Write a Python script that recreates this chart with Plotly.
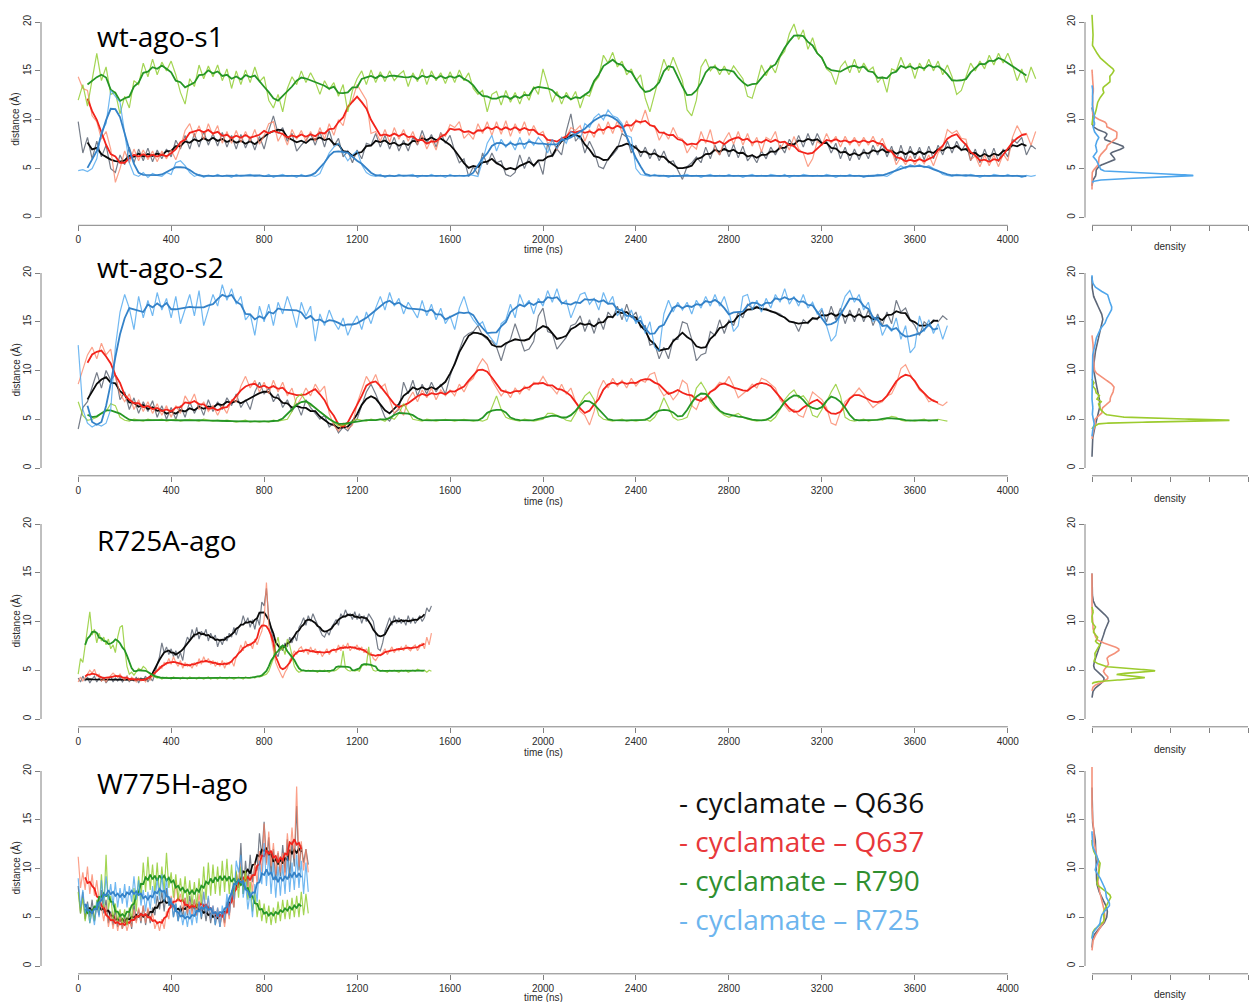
import numpy as np
import plotly.graph_objects as go

# ---------------- data ----------------
ROW_TITLES = ["wt-ago-s1", "wt-ago-s2", "R725A-ago", "W775H-ago"]
PAIRS = ["Q636", "Q637", "R790", "R725"]
LEGEND_LABELS = ["- cyclamate \u2013 Q636", "- cyclamate \u2013 Q637",
                 "- cyclamate \u2013 R790", "- cyclamate \u2013 R725"]
TIME_TICKS = [0, 400, 800, 1200, 1600, 2000, 2400, 2800, 3200, 3600, 4000]
DIST_TICKS = [0, 5, 10, 15, 20]
DENS_TICKS = [0, 0.5, 1.0, 1.5, 2.0]
SAMPLE_STEP = [20, 20, 10, 10]      # ns between stored samples, per row
SMOOTH_WINDOW = [5, 5, 7, 7]        # running-mean window (samples), per row

# ---- row 1 : wt-ago-s1 (0..4120 ns, every 20 ns)
s1_q636 = [
 9.8, 6.6, 8.2, 6.0, 7.8, 6.2, 7.4, 5.0, 4.6, 6.4,
 5.4, 7.2, 5.6, 7.0, 5.8, 7.1, 5.7, 6.9, 6.0, 7.0,
 6.2, 7.9, 7.0, 8.4, 7.0, 8.6, 7.2, 8.8, 7.4, 8.6,
 7.3, 8.7, 7.2, 8.4, 7.0, 8.5, 7.1, 8.2, 6.9, 8.3,
 7.0, 8.9, 10.4, 8.6, 9.2, 7.8, 8.6, 6.8, 7.4, 7.9,
 8.6, 7.4, 8.8, 7.2, 8.9, 7.3, 8.1, 6.2, 6.8, 5.6,
 6.9, 6.0, 7.6, 7.4, 8.6, 7.2, 8.4, 7.0, 8.2, 6.8,
 7.9, 6.8, 8.2, 7.4, 8.9, 7.6, 8.5, 7.2, 8.7, 7.6,
 8.4, 6.8, 5.6, 6.0, 4.2, 5.2, 4.4, 6.6, 5.4, 6.6,
 5.6, 5.8, 4.4, 4.2, 4.6, 6.4, 5.0, 6.2, 5.2, 5.8,
 4.4, 7.6, 6.2, 7.0, 6.4, 8.8, 10.6, 7.8, 8.4, 6.6,
 7.8, 6.8, 5.2, 5.0, 6.0, 6.4, 7.0, 8.6, 8.2, 6.6,
 7.4, 6.2, 7.2, 6.0, 7.0, 5.8, 6.8, 5.6, 5.8, 4.8,
 3.9, 5.2, 5.6, 6.2, 5.6, 7.2, 6.0, 7.4, 6.4, 7.6,
 6.2, 7.5, 6.1, 7.3, 5.8, 6.4, 5.6, 6.8, 6.0, 7.2,
 6.4, 7.4, 6.6, 8.0, 7.2, 8.4, 7.2, 8.6, 7.4, 8.6,
 7.6, 7.8, 6.6, 7.6, 6.0, 7.2, 5.8, 7.0, 5.9, 7.0,
 6.0, 7.4, 6.4, 7.6, 6.2, 7.3, 5.8, 7.4, 5.9, 7.3,
 6.0, 7.2, 5.9, 7.3, 6.0, 7.4, 6.4, 7.8, 6.6, 7.8,
 6.8, 7.6, 5.8, 7.0, 5.6, 7.0, 5.8, 7.1, 5.7, 7.0,
 6.2, 8.0, 7.6, 8.2, 6.4, 7.4, 7.0]
s1_q637 = [
 14.4, 13.2, 13.0, 10.4, 9.8, 8.0, 8.8, 7.0, 3.6, 5.0,
 6.8, 5.6, 7.0, 5.8, 6.9, 5.9, 6.8, 5.7, 6.8, 6.0,
 6.9, 5.9, 7.2, 8.9, 9.6, 8.2, 9.4, 8.0, 9.6, 8.4,
 9.4, 7.6, 8.8, 7.6, 8.9, 7.7, 8.8, 7.8, 9.0, 7.5,
 8.4, 9.6, 9.8, 7.8, 8.7, 7.4, 9.0, 8.0, 8.9, 7.8,
 8.8, 7.8, 9.2, 8.0, 9.6, 8.4, 10.0, 9.4, 11.4, 12.0,
 13.6, 12.8, 12.0, 8.6, 8.8, 7.8, 9.0, 7.7, 9.2, 8.0,
 9.0, 7.8, 8.8, 7.5, 8.4, 7.0, 8.0, 6.9, 8.6, 8.3,
 9.5, 9.2, 9.8, 8.1, 8.6, 8.0, 9.6, 8.6, 9.8, 8.4,
 9.8, 8.5, 9.9, 8.3, 9.6, 8.6, 9.8, 8.4, 9.4, 8.5,
 8.8, 7.6, 7.9, 6.9, 8.2, 8.2, 9.2, 8.9, 9.4, 7.8,
 9.0, 8.2, 9.6, 8.5, 9.8, 8.6, 9.9, 8.7, 9.9, 8.8,
 10.0, 9.6, 11.0, 9.4, 9.4, 7.9, 8.8, 8.0, 9.2, 8.2,
 8.0, 6.6, 7.4, 7.0, 8.8, 7.6, 9.0, 7.0, 6.4, 7.9,
 8.7, 7.5, 8.8, 7.4, 8.6, 7.3, 8.2, 6.7, 8.2, 7.9,
 8.8, 7.0, 7.8, 6.9, 8.3, 7.0, 6.6, 5.2, 6.0, 7.8,
 7.4, 8.6, 7.6, 8.3, 7.2, 8.3, 7.4, 8.2, 7.3, 8.2,
 7.4, 8.3, 7.3, 8.1, 6.9, 6.9, 5.4, 6.2, 5.4, 6.3,
 5.4, 6.2, 5.5, 6.4, 5.3, 6.6, 7.2, 9.0, 8.6, 8.9,
 8.1, 8.0, 5.9, 6.3, 5.2, 6.4, 5.3, 6.4, 5.2, 6.5,
 5.8, 8.2, 9.4, 8.5, 8.6, 7.4, 8.8]
s1_r790 = [
 12.0, 13.6, 11.4, 14.2, 16.8, 14.0, 15.4, 12.6, 12.8, 10.6,
 12.4, 11.2, 14.0, 13.6, 15.8, 14.4, 16.2, 14.6, 15.9, 15.0,
 16.0, 14.6, 12.8, 11.6, 14.2, 13.4, 15.6, 14.2, 15.5, 14.4,
 15.6, 14.0, 15.2, 13.2, 15.0, 13.6, 15.1, 13.8, 15.4, 13.9,
 14.4, 12.0, 11.2, 12.6, 10.8, 13.2, 14.4, 13.6, 15.0, 13.8,
 14.8, 13.9, 12.6, 14.0, 13.1, 13.8, 12.4, 13.6, 10.8, 13.0,
 14.2, 15.0, 13.6, 15.1, 13.8, 14.9, 13.9, 15.0, 14.0, 14.6,
 15.0, 13.4, 14.8, 13.9, 15.2, 13.6, 15.0, 14.0, 14.8, 13.7,
 14.9, 13.8, 15.1, 14.0, 14.8, 13.2, 12.6, 13.0, 10.8, 12.6,
 12.9, 11.5, 13.0, 11.8, 12.8, 11.6, 12.9, 12.0, 13.4, 12.6,
 15.2, 13.6, 11.8, 12.9, 11.6, 12.8, 12.0, 12.9, 11.2, 12.6,
 12.4, 13.8, 14.4, 16.6, 15.8, 16.9, 15.4, 16.0, 14.6, 15.2,
 14.0, 14.6, 12.2, 10.8, 12.6, 14.6, 16.2, 15.0, 16.4, 15.2,
 14.0, 11.0, 10.4, 12.0, 15.4, 16.2, 15.0, 15.6, 14.6, 15.5,
 14.6, 15.5, 14.8, 14.2, 12.4, 12.2, 13.8, 15.6, 14.5, 15.6,
 14.8, 16.4, 17.0, 18.8, 19.8, 18.2, 19.2, 17.2, 18.4, 16.8,
 16.4, 15.2, 14.8, 13.6, 15.4, 16.0, 14.8, 16.2, 14.8, 15.8,
 15.0, 15.4, 13.8, 14.4, 12.8, 15.2, 15.0, 16.4, 15.2, 15.8,
 14.2, 15.8, 15.0, 16.2, 15.0, 16.0, 14.6, 15.6, 14.4, 12.6,
 13.0, 14.4, 15.8, 15.0, 16.0, 15.2, 16.6, 15.6, 16.8, 15.8,
 16.8, 15.6, 14.0, 15.2, 13.8, 15.4, 14.2]
s1_r725 = [
 4.8, 4.9, 4.7, 5.0, 6.0, 8.8, 9.6, 13.0, 12.4, 11.8,
 8.6, 5.6, 4.4, 4.2, 4.6, 4.1, 4.5, 4.3, 4.2, 4.6,
 4.4, 5.6, 5.8, 5.3, 4.6, 4.2, 4.4, 4.1, 4.3, 4.2,
 4.4, 4.2, 4.3, 4.1, 4.4, 4.2, 4.3, 4.4, 4.2, 4.3,
 4.2, 4.4, 4.1, 4.3, 4.4, 4.2, 4.3, 4.1, 4.4, 4.2,
 4.3, 4.2, 4.5, 5.6, 6.6, 7.2, 7.6, 6.6, 5.8, 6.4,
 6.8, 5.4, 4.6, 4.3, 4.2, 4.4, 4.1, 4.3, 4.2, 4.4,
 4.2, 4.3, 4.4, 4.1, 4.3, 4.2, 4.4, 4.2, 4.3, 4.1,
 4.4, 4.2, 4.3, 4.2, 4.4, 4.3, 4.2, 5.8, 7.6, 8.4,
 6.8, 8.0, 7.2, 7.8, 6.9, 8.2, 7.0, 8.0, 7.4, 8.2,
 7.6, 6.6, 8.0, 7.0, 8.2, 7.6, 8.8, 8.4, 8.0, 9.6,
 9.2, 10.2, 10.6, 10.0, 11.0, 10.4, 10.2, 9.6, 8.4, 8.2,
 5.0, 4.4, 4.3, 4.2, 4.4, 4.2, 4.3, 4.1, 4.3, 4.2,
 4.3, 4.4, 4.2, 4.3, 4.1, 4.3, 4.4, 4.2, 4.3, 4.2,
 4.4, 4.2, 4.3, 4.1, 4.3, 4.4, 4.2, 4.3, 4.2, 4.4,
 4.3, 4.2, 4.4, 4.1, 4.3, 4.2, 4.4, 4.3, 4.2, 4.3,
 4.2, 4.4, 4.3, 4.1, 4.3, 4.2, 4.4, 4.2, 4.3, 4.1,
 4.3, 4.2, 4.4, 4.3, 4.2, 4.5, 4.9, 5.3, 5.0, 5.4,
 5.2, 5.4, 5.1, 5.3, 5.0, 4.8, 4.4, 4.3, 4.2, 4.4,
 4.3, 4.2, 4.4, 4.3, 4.1, 4.3, 4.2, 4.4, 4.3, 4.2,
 4.4, 4.2, 4.3, 4.1, 4.3, 4.2, 4.3]

# ---- row 2 : wt-ago-s2 (0..3740 ns, every 20 ns)
s2_q636 = [
 4.0, 6.2, 6.8, 8.4, 9.8, 8.2, 10.0, 9.0, 9.6, 7.0,
 7.8, 6.0, 7.2, 5.6, 6.8, 5.8, 6.9, 5.2, 6.4, 5.0,
 6.2, 5.0, 6.4, 5.2, 6.8, 5.6, 6.6, 5.4, 7.0, 5.8,
 6.8, 6.0, 7.2, 6.4, 7.6, 6.2, 7.0, 6.0, 7.8, 8.8,
 7.6, 8.2, 6.8, 7.6, 6.2, 7.0, 5.8, 6.6, 5.4, 7.0,
 6.2, 5.6, 5.0, 5.4, 4.2, 4.6, 3.6, 4.2, 3.8, 4.6,
 5.0, 6.4, 7.8, 8.6, 7.6, 6.4, 5.2, 4.8, 5.6, 6.0,
 8.8, 7.6, 9.0, 7.4, 8.6, 7.6, 8.8, 7.8, 8.6, 7.6,
 9.4, 10.8, 12.0, 13.4, 13.8, 14.0, 14.6, 13.6, 13.2, 13.0,
 12.4, 11.0, 12.6, 13.2, 14.8, 13.4, 12.0, 12.2, 13.0, 15.6,
 16.4, 14.0, 13.8, 12.2, 12.8, 13.4, 14.6, 14.8, 15.6, 14.0,
 15.2, 13.8, 15.4, 14.2, 16.0, 15.4, 16.6, 15.2, 16.8, 15.4,
 16.0, 14.4, 14.6, 12.6, 12.8, 11.2, 12.4, 11.2, 13.2, 13.2,
 15.0, 14.8, 13.2, 11.0, 11.6, 11.8, 14.0, 13.6, 15.2, 13.8,
 15.2, 14.6, 16.0, 15.4, 16.8, 16.4, 16.6, 16.2, 16.4, 16.0,
 16.0, 15.8, 15.4, 15.0, 15.0, 14.0, 15.2, 14.8, 15.4, 15.2,
 16.2, 15.0, 16.6, 15.2, 16.4, 14.8, 16.2, 15.0, 16.4, 15.0,
 16.2, 14.6, 15.8, 14.6, 16.0, 14.8, 17.2, 16.0, 16.4, 15.2,
 14.6, 13.6, 15.0, 14.6, 15.2, 15.0, 15.6, 15.2]
s2_q637 = [
 8.6, 10.2, 11.6, 12.4, 11.2, 12.8, 11.6, 12.2, 9.4, 7.6,
 6.8, 7.6, 6.0, 7.0, 5.8, 6.8, 5.6, 6.6, 5.4, 6.4,
 5.2, 6.4, 5.6, 7.4, 6.6, 7.6, 6.0, 6.8, 5.8, 6.4,
 5.4, 6.4, 5.6, 7.0, 6.8, 8.4, 9.4, 8.2, 9.0, 7.8,
 8.8, 7.6, 9.0, 7.8, 8.8, 7.4, 8.2, 6.4, 7.2, 8.2,
 7.4, 8.6, 7.8, 8.4, 5.6, 4.4, 3.8, 4.6, 4.0, 4.4,
 6.6, 8.0, 9.4, 8.6, 9.6, 8.2, 8.6, 7.0, 5.6, 6.2,
 5.4, 7.0, 7.8, 6.8, 8.0, 7.2, 8.2, 7.0, 8.0, 7.4,
 8.0, 7.4, 8.6, 7.8, 8.8, 9.2, 10.4, 11.2, 10.6, 9.0,
 8.2, 7.4, 8.0, 7.2, 8.2, 7.6, 8.4, 8.0, 8.8, 8.6,
 9.4, 8.6, 8.2, 7.6, 8.6, 7.6, 8.2, 6.8, 5.8, 5.4,
 4.4, 5.8, 8.0, 9.0, 8.2, 9.2, 8.4, 9.0, 8.2, 9.2,
 8.4, 9.0, 8.8, 9.6, 9.8, 8.2, 7.4, 7.8, 7.0, 7.6,
 9.0, 8.6, 6.4, 6.0, 7.2, 7.0, 7.8, 8.2, 8.8, 8.6,
 9.4, 8.4, 7.2, 7.6, 8.0, 8.6, 8.2, 9.2, 9.0, 8.6,
 8.2, 7.0, 6.4, 5.8, 6.0, 5.4, 5.2, 6.6, 7.8, 7.4,
 7.0, 6.2, 4.6, 4.4, 5.8, 6.8, 7.2, 7.6, 8.2, 7.6,
 6.8, 6.2, 6.6, 6.8, 7.4, 7.6, 8.6, 10.2, 10.6, 9.6,
 8.8, 8.0, 7.6, 6.8, 7.0, 6.6, 6.4, 6.8]
s2_r790 = [
 6.8, 5.4, 4.9, 5.0, 5.2, 5.6, 5.8, 6.6, 6.4, 5.2,
 4.9, 4.8, 5.0, 4.9, 4.8, 5.0, 4.9, 4.9, 5.0, 4.8,
 4.9, 5.0, 4.8, 4.9, 5.0, 4.9, 4.8, 5.0, 4.9, 4.8,
 4.9, 4.8, 4.9, 4.8, 4.7, 4.8, 4.9, 4.7, 4.8, 4.7,
 4.8, 4.7, 4.9, 4.8, 4.9, 5.0, 5.8, 7.2, 7.6, 6.8,
 6.4, 6.2, 5.8, 5.4, 5.0, 4.6, 4.3, 4.4, 4.5, 4.8,
 5.0, 4.9, 4.8, 5.0, 4.9, 5.0, 4.8, 5.2, 5.0, 5.6,
 6.6, 5.8, 5.0, 4.9, 4.8, 5.0, 4.9, 4.8, 4.9, 5.0,
 4.9, 4.8, 4.9, 5.0, 4.9, 4.8, 4.9, 4.8, 5.0, 6.2,
 7.4, 6.0, 5.2, 5.0, 4.9, 4.8, 5.0, 4.9, 4.8, 4.9,
 5.0, 5.6, 5.6, 5.4, 5.2, 4.9, 4.8, 5.6, 6.6, 7.4,
 7.8, 7.0, 5.4, 5.0, 4.9, 4.8, 4.9, 5.0, 4.8, 4.9,
 4.8, 4.9, 5.0, 4.8, 5.2, 6.0, 7.2, 6.2, 5.2, 4.9,
 5.0, 5.2, 6.4, 8.2, 8.8, 8.0, 6.8, 6.2, 5.8, 5.4,
 5.2, 5.4, 5.6, 5.2, 5.0, 4.9, 4.8, 4.9, 5.0, 4.8,
 5.2, 6.0, 7.0, 7.6, 8.0, 7.2, 7.4, 6.8, 5.4, 5.2,
 6.0, 6.8, 7.8, 8.6, 7.4, 5.2, 4.9, 4.8, 4.9, 5.0,
 4.8, 4.9, 5.0, 4.9, 5.1, 5.3, 5.2, 4.9, 4.8, 4.9,
 4.8, 4.9, 5.0, 4.8, 4.9, 5.0, 4.9, 4.8]
s2_r725 = [
 12.6, 6.0, 4.6, 4.2, 4.5, 4.3, 4.6, 6.0, 12.4, 16.0,
 17.8, 16.4, 14.2, 17.6, 15.4, 17.2, 15.6, 18.0, 16.2, 17.4,
 15.4, 17.6, 14.8, 16.2, 17.8, 15.6, 18.2, 14.6, 16.2, 17.8,
 16.6, 18.8, 17.2, 18.4, 16.8, 17.6, 15.2, 15.8, 13.6, 16.6,
 15.0, 16.8, 14.6, 17.0, 15.8, 17.6, 16.2, 14.4, 17.0, 15.6,
 16.6, 13.0, 15.8, 14.6, 16.2, 15.0, 14.2, 15.4, 13.6, 14.8,
 15.6, 14.2, 16.0, 14.8, 16.4, 17.6, 16.2, 18.0, 16.6, 17.4,
 15.8, 17.0, 16.2, 15.4, 17.2, 15.6, 16.8, 15.2, 16.4, 14.8,
 15.6, 14.2, 16.4, 17.6, 16.0, 15.2, 14.6, 15.0, 13.8, 13.2,
 12.6, 14.8, 15.2, 16.8, 15.4, 17.8, 16.6, 17.2, 15.8, 17.4,
 16.6, 18.2, 17.0, 18.4, 16.8, 17.2, 15.4, 16.6, 17.8, 18.0,
 16.8, 17.4, 16.2, 18.0, 16.8, 17.6, 15.6, 16.4, 15.0, 16.2,
 14.8, 15.6, 13.8, 15.0, 12.4, 12.0, 15.8, 17.2, 16.0, 17.0,
 16.2, 17.0, 15.8, 17.2, 16.4, 17.6, 16.6, 17.8, 16.6, 17.6,
 16.0, 14.0, 14.6, 17.6, 17.8, 16.2, 17.2, 16.0, 17.4, 16.4,
 17.8, 17.0, 18.4, 16.8, 17.6, 16.6, 17.8, 16.4, 17.0, 15.8,
 16.4, 14.6, 13.0, 13.6, 16.2, 17.6, 18.2, 17.0, 17.8, 16.2,
 17.0, 15.0, 15.6, 13.6, 14.6, 14.0, 15.4, 13.2, 14.6, 11.8,
 12.4, 15.6, 14.0, 15.2, 13.8, 14.8, 13.2, 14.6]

# ---- row 3 : R725A-ago (0..1520 ns, every 10 ns; no R725 contact)
s3_q636 = [
 4.2, 3.8, 4.4, 3.9, 4.3, 3.7, 4.1, 4.4, 3.8, 4.2,
 3.9, 4.3, 3.7, 4.1, 4.4, 3.8, 4.2, 3.9, 4.3, 3.8,
 4.1, 4.4, 3.8, 4.2, 3.9, 4.3, 3.7, 4.2, 4.0, 4.4,
 3.8, 4.2, 3.9, 4.6, 5.6, 6.4, 7.8, 6.8, 7.4, 6.6,
 7.2, 6.4, 7.0, 6.2, 6.8, 6.0, 7.6, 8.4, 8.0, 9.2,
 8.4, 9.4, 8.2, 9.0, 8.6, 9.2, 8.0, 8.8, 8.2, 8.6,
 7.4, 8.2, 7.6, 8.4, 8.0, 8.8, 8.4, 9.4, 8.6, 9.4,
 9.6, 10.6, 9.8, 10.4, 9.4, 10.2, 9.2, 10.4, 9.6, 12.0,
 11.6, 13.4, 10.4, 9.2, 7.8, 6.8, 6.4, 7.4, 7.0, 7.8,
 7.4, 8.4, 7.8, 8.6, 8.0, 9.4, 9.8, 10.4, 9.6, 10.6,
 10.0, 10.8, 10.2, 9.6, 9.2, 8.6, 8.4, 9.0, 8.6, 9.4,
 9.8, 10.2, 9.6, 10.8, 10.4, 11.2, 10.6, 10.8, 10.2, 11.0,
 10.2, 10.8, 9.8, 10.6, 10.0, 10.8, 10.4, 10.0, 8.6, 7.2,
 7.0, 7.8, 9.0, 9.8, 10.4, 9.6, 10.6, 9.8, 10.4, 9.8,
 10.2, 9.6, 10.6, 9.8, 10.4, 9.8, 10.2, 10.6, 10.0, 10.4,
 11.4, 11.0, 11.6]
s3_q637 = [
 3.8, 4.3, 3.9, 4.2, 4.6, 5.0, 4.7, 5.1, 4.4, 4.6,
 3.9, 4.1, 3.8, 4.2, 4.4, 4.7, 4.5, 4.3, 4.6, 4.2,
 4.0, 4.4, 3.9, 4.3, 4.1, 3.8, 4.2, 3.9, 4.1, 3.8,
 4.2, 4.0, 4.4, 4.8, 5.0, 5.4, 5.2, 5.8, 5.6, 6.2,
 5.6, 6.4, 5.8, 5.4, 6.0, 5.2, 5.8, 5.4, 5.6, 5.2,
 5.8, 5.4, 6.2, 5.6, 6.4, 5.8, 6.2, 5.6, 6.0, 5.4,
 5.8, 5.4, 6.0, 5.2, 5.8, 5.6, 6.0, 5.4, 6.4, 6.8,
 7.6, 7.0, 8.0, 7.4, 7.8, 7.2, 8.2, 7.6, 8.4, 9.0,
 10.2, 14.0, 9.6, 8.4, 7.0, 5.8, 5.2, 4.6, 4.2, 4.8,
 5.2, 6.0, 6.6, 7.0, 6.6, 7.2, 7.4, 6.8, 7.2, 6.6,
 7.4, 6.8, 7.2, 6.6, 7.0, 6.4, 6.8, 7.2, 6.6, 7.0,
 7.2, 6.8, 7.6, 7.0, 7.6, 7.2, 7.8, 7.0, 7.4, 7.2,
 7.6, 7.0, 7.4, 6.8, 7.2, 6.6, 6.8, 6.2, 6.0, 6.4,
 6.6, 6.8, 7.2, 6.6, 7.0, 7.4, 6.8, 7.2, 7.0, 7.4,
 7.0, 7.6, 7.2, 7.0, 7.4, 7.6, 7.0, 7.4, 7.8, 7.2,
 8.4, 7.6, 8.8]
s3_r790 = [
 4.6, 6.2, 5.8, 7.6, 9.4, 11.0, 8.6, 9.2, 7.8, 8.8,
 8.0, 8.4, 7.6, 8.2, 7.2, 7.6, 6.8, 8.4, 9.4, 9.6,
 7.2, 5.4, 4.6, 4.8, 4.5, 4.9, 5.2, 5.0, 5.4, 5.2,
 4.8, 4.6, 4.4, 4.3, 4.2, 4.3, 4.1, 4.2, 4.3, 4.2,
 4.1, 4.3, 4.2, 4.2, 4.1, 4.3, 4.2, 4.1, 4.3, 4.2,
 4.2, 4.1, 4.3, 4.2, 4.1, 4.2, 4.3, 4.1, 4.2, 4.2,
 4.1, 4.3, 4.2, 4.2, 4.1, 4.3, 4.2, 4.1, 4.2, 4.3,
 4.2, 4.1, 4.3, 4.2, 4.2, 4.3, 4.2, 4.4, 4.3, 4.4,
 4.5, 4.6, 4.9, 5.6, 6.2, 7.6, 8.4, 7.0, 7.4, 6.6,
 8.2, 7.6, 6.4, 5.4, 5.0, 4.8, 4.9, 5.0, 4.9, 5.0,
 4.9, 5.0, 4.9, 4.8, 5.0, 4.9, 5.0, 4.9, 4.8, 5.0,
 4.9, 5.0, 5.2, 5.4, 7.0, 5.2, 5.0, 4.9, 5.0, 4.9,
 5.0, 4.9, 5.4, 5.6, 5.5, 7.4, 5.5, 5.0, 4.9, 5.0,
 4.9, 5.0, 4.9, 4.8, 5.0, 4.9, 5.0, 4.9, 4.8, 5.0,
 4.9, 5.0, 4.8, 4.9, 5.0, 4.9, 5.1, 5.0, 4.9, 5.0,
 4.8, 5.0, 4.9]

# ---- row 4 : W775H-ago (0..990 ns, every 10 ns)
s4_q636 = [
 8.2, 5.4, 7.6, 4.8, 6.6, 5.0, 6.8, 4.6, 6.2, 5.2,
 7.8, 5.4, 6.8, 4.4, 5.6, 4.2, 5.8, 4.0, 5.4, 3.8,
 5.0, 4.2, 5.6, 3.8, 6.4, 4.6, 5.8, 4.4, 6.2, 4.2,
 5.8, 4.4, 6.0, 5.2, 7.2, 5.8, 7.6, 5.6, 8.0, 6.2,
 7.0, 5.0, 6.4, 4.6, 6.2, 5.0, 7.0, 5.2, 7.2, 5.6,
 6.8, 5.2, 6.6, 4.8, 6.4, 4.6, 6.2, 4.4, 6.0, 4.2,
 5.8, 4.0, 5.6, 4.4, 6.6, 5.2, 7.4, 6.0, 9.6, 8.0,
 12.6, 7.4, 10.8, 8.2, 11.4, 8.6, 10.2, 9.8, 13.6, 11.2,
 14.8, 10.6, 13.2, 9.4, 12.0, 8.8, 11.6, 9.2, 12.4, 9.6,
 13.0, 9.0, 12.8, 10.2, 16.4, 9.8, 12.4, 10.6, 12.0, 10.4]
s4_q637 = [
 11.2, 8.0, 9.6, 7.8, 10.2, 7.4, 9.4, 7.2, 8.8, 6.6,
 6.0, 4.6, 6.2, 4.0, 5.4, 3.8, 5.2, 3.6, 5.0, 3.8,
 4.8, 3.6, 4.6, 4.0, 5.8, 4.4, 6.0, 4.6, 6.2, 4.4,
 6.0, 4.6, 5.4, 3.8, 4.6, 3.6, 4.8, 3.8, 5.6, 4.8,
 7.2, 5.8, 8.8, 6.6, 7.4, 5.6, 7.0, 5.4, 6.6, 5.2,
 6.8, 5.2, 7.4, 5.6, 7.6, 5.4, 7.0, 4.8, 6.2, 4.6,
 6.0, 4.2, 5.6, 4.0, 6.2, 4.8, 7.6, 6.0, 9.6, 8.0,
 10.8, 8.2, 9.6, 7.8, 9.4, 7.6, 10.6, 8.4, 11.8, 9.6,
 14.6, 10.4, 13.8, 10.2, 12.6, 9.4, 11.8, 9.6, 11.6, 9.2,
 13.6, 10.8, 14.2, 11.0, 18.4, 10.2, 12.8, 9.8, 12.0, 9.6]
s4_r790 = [
 7.6, 5.4, 7.0, 4.6, 6.2, 4.4, 5.8, 4.6, 6.8, 5.6,
 9.4, 6.0, 11.4, 5.8, 7.2, 4.8, 6.4, 4.6, 5.8, 4.4,
 5.8, 4.2, 6.0, 4.8, 8.0, 5.6, 9.2, 6.8, 10.6, 7.6,
 11.2, 7.8, 10.4, 7.4, 10.6, 7.2, 10.2, 7.6, 11.6, 8.0,
 9.6, 7.0, 9.4, 6.8, 9.0, 6.6, 9.2, 6.4, 8.8, 6.2,
 8.6, 6.0, 9.0, 6.4, 10.2, 6.8, 10.6, 7.2, 10.4, 7.4,
 10.2, 7.2, 10.8, 7.6, 11.0, 7.4, 10.4, 7.2, 9.8, 7.0,
 10.2, 7.4, 9.8, 6.8, 8.6, 5.6, 7.6, 5.0, 6.8, 4.6,
 6.4, 4.4, 6.2, 4.2, 6.0, 4.4, 6.6, 4.6, 6.8, 4.8,
 6.8, 4.8, 7.0, 5.0, 7.2, 5.0, 7.6, 5.2, 7.4, 5.4]
s4_r725 = [
 9.0, 6.0, 7.8, 5.4, 6.4, 4.4, 5.6, 4.2, 6.6, 5.0,
 8.8, 6.4, 9.2, 6.8, 8.4, 6.2, 8.6, 6.0, 8.0, 6.4,
 8.4, 6.0, 8.2, 6.6, 9.2, 6.8, 8.8, 6.2, 7.8, 5.6,
 7.6, 5.8, 8.2, 6.4, 9.0, 6.8, 9.4, 6.6, 9.0, 6.2,
 7.0, 5.0, 6.4, 4.6, 5.8, 4.2, 5.6, 4.0, 5.8, 4.2,
 6.0, 4.4, 6.6, 5.0, 7.6, 5.4, 7.2, 4.8, 6.2, 4.2,
 6.0, 4.0, 6.2, 4.8, 7.4, 5.2, 7.8, 6.8, 10.8, 9.6,
 11.4, 7.0, 8.6, 5.8, 7.6, 5.0, 8.4, 6.6, 10.8, 8.4,
 12.6, 8.2, 11.4, 7.4, 10.6, 7.0, 10.2, 7.2, 10.4, 7.4,
 11.2, 7.6, 10.6, 7.8, 11.4, 8.0, 10.8, 7.4, 10.6, 7.6]

ROWS = [
    {"Q636": s1_q636, "Q637": s1_q637, "R790": s1_r790, "R725": s1_r725},
    {"Q636": s2_q636, "Q637": s2_q637, "R790": s2_r790, "R725": s2_r725},
    {"Q636": s3_q636, "Q637": s3_q637, "R790": s3_r790},
    {"Q636": s4_q636, "Q637": s4_q637, "R790": s4_r790, "R725": s4_r725},
]

# ---------------- styles ----------------
RAW_COL = {"Q636": "rgba(72,82,98,0.75)", "Q637": "rgba(250,128,98,0.75)",
           "R790": "rgba(140,202,40,0.8)", "R725": "rgba(66,160,236,0.75)"}
SMOOTH_COL = {"Q636": "#0a0a0a", "Q637": "#f2231b", "R790": "#259625", "R725": "#3482c8"}
DENS_COL = {"Q636": "#5d6778", "Q637": "#f4917a", "R790": "#9ccb2e", "R725": "#4fa6ec"}
LEGEND_COL = ["#111111", "#e8383b", "#2f8f2f", "#6db5ee"]

W, H = 1249, 1002
def fx(p):
    return p / W
def fy(p):
    return 1 - p / H

PLOT_ROWS_PX = [(14.2, 225.3), (265.2, 475.8), (516.2, 726.8), (763.2, 973.8)]
MAIN_X_PX = (41, 1045)
DENS_X_PX = (1085, 1249)
MAIN_XR = [-160, 4160]
DIST_R = [-0.8, 20.8]
DENS_XR = [-0.0897, 2.0128]
TITLE_Y = [36, 267, 540, 783]
TIME_LABEL_Y = [250, 501, 752, 997]
BW_SCALE = 0.62


def running_mean(v, w):
    v = np.asarray(v, float)
    out = np.full(len(v), np.nan)
    k = w // 2
    out[k:len(v) - k] = np.convolve(v, np.ones(w) / w, mode="valid")
    return out


def kde(v):
    v = np.asarray(v, float)
    n = len(v)
    q75, q25 = np.percentile(v, [75, 25])
    bw = BW_SCALE * 0.9 * min(v.std(ddof=1), (q75 - q25) / 1.34) * n ** -0.2
    grid = np.linspace(v.min() - 3 * bw, v.max() + 3 * bw, 600)
    d = np.exp(-0.5 * ((grid[:, None] - v[None, :]) / bw) ** 2).sum(1) / (n * bw * np.sqrt(2 * np.pi))
    return grid, d


fig = go.Figure()
layout = dict(width=W, height=H, margin=dict(l=0, r=0, t=0, b=0),
              paper_bgcolor="white", plot_bgcolor="white", showlegend=False)
tickfont = dict(family="Liberation Sans, Arial, sans-serif", size=10, color="#2a2a2a")
axis_common = dict(showgrid=False, zeroline=False, showline=False, ticks="outside",
                   ticklen=5, tickwidth=1, tickcolor="#808080", tickfont=tickfont, fixedrange=True)
shapes, annotations = [], []


def frac(v, rng):
    return (v - rng[0]) / (rng[1] - rng[0])


for r, series in enumerate(ROWS):
    top, bot = PLOT_ROWS_PX[r]
    ydom = [fy(bot), fy(top)]
    n_main, n_den = 2 * r + 1, 2 * r + 2
    xm = "x" if n_main == 1 else f"x{n_main}"
    ym = "y" if n_main == 1 else f"y{n_main}"
    xd, yd = f"x{n_den}", f"y{n_den}"
    key = lambda a, n: a + ("axis" if n == 1 else f"axis{n}")

    layout[key("x", n_main)] = dict(axis_common, domain=[fx(MAIN_X_PX[0]), fx(MAIN_X_PX[1])],
                                     range=MAIN_XR, tickvals=TIME_TICKS, anchor=ym)
    layout[key("y", n_main)] = dict(axis_common, domain=ydom, range=DIST_R, tickvals=DIST_TICKS,
                                     tickangle=-90, anchor=xm)
    layout[key("x", n_den)] = dict(axis_common, domain=[fx(DENS_X_PX[0]), fx(DENS_X_PX[1])],
                                    range=DENS_XR, tickvals=DENS_TICKS, showticklabels=False, anchor=yd)
    layout[key("y", n_den)] = dict(axis_common, domain=ydom, range=DIST_R, tickvals=DIST_TICKS,
                                    tickangle=-90, anchor=xd)

    step = SAMPLE_STEP[r]
    for name in PAIRS:
        if name not in series:
            continue
        vals = np.asarray(series[name], float)
        t = np.arange(len(vals)) * step
        fig.add_trace(go.Scatter(x=t, y=vals, mode="lines", xaxis=xm, yaxis=ym,
                                 line=dict(color=RAW_COL[name], width=1.2), hoverinfo="skip"))
        fig.add_trace(go.Scatter(x=t, y=running_mean(vals, SMOOTH_WINDOW[r]), mode="lines",
                                 xaxis=xm, yaxis=ym, line=dict(color=SMOOTH_COL[name], width=1.8),
                                 hoverinfo="skip"))
    for name in PAIRS:
        if name not in series:
            continue
        g, d = kde(series[name])
        fig.add_trace(go.Scatter(x=d, y=g, mode="lines", xaxis=xd, yaxis=yd,
                                 line=dict(color=DENS_COL[name], width=1.6), hoverinfo="skip"))

    # R-style axis lines spanning only the tick range
    for xa, ya, xr, xt in [(xm, ym, MAIN_XR, TIME_TICKS), (xd, yd, DENS_XR, DENS_TICKS)]:
        shapes.append(dict(type="line", xref=f"{xa} domain", yref=f"{ya} domain",
                           x0=frac(xt[0], xr), x1=frac(xt[-1], xr), y0=0, y1=0,
                           line=dict(color="#808080", width=1)))
        shapes.append(dict(type="line", xref=f"{xa} domain", yref=f"{ya} domain",
                           x0=0, x1=0, y0=frac(DIST_TICKS[0], DIST_R), y1=frac(DIST_TICKS[-1], DIST_R),
                           line=dict(color="#808080", width=1)))

    annotations.append(dict(text=ROW_TITLES[r], xref="paper", yref="paper", x=fx(95), y=fy(TITLE_Y[r]),
                            xanchor="left", yanchor="middle", showarrow=False,
                            font=dict(family="Open Sans, sans-serif", size=28, color="#000")))
    annotations.append(dict(text="distance (\u00c5)", xref="paper", yref="paper", x=fx(15),
                            y=fy((top + bot) / 2), textangle=-90, showarrow=False,
                            xanchor="center", yanchor="middle",
                            font=dict(family="Liberation Sans, Arial, sans-serif", size=10, color="#2a2a2a")))
    annotations.append(dict(text="time (ns)", xref=xm, yref="paper", x=2000, y=fy(TIME_LABEL_Y[r]),
                            showarrow=False, xanchor="center", yanchor="middle",
                            font=dict(family="Liberation Sans, Arial, sans-serif", size=10, color="#2a2a2a")))
    annotations.append(dict(text="density", xref=xd, yref="paper", x=1.0, y=fy(TIME_LABEL_Y[r] - 3),
                            showarrow=False, xanchor="center", yanchor="middle",
                            font=dict(family="Liberation Sans, Arial, sans-serif", size=10, color="#2a2a2a")))

LEGEND_Y = [802, 841, 880, 919]
for i, lab in enumerate(LEGEND_LABELS):
    annotations.append(dict(text=lab, xref="paper", yref="paper", x=fx(677), y=fy(LEGEND_Y[i]),
                            xanchor="left", yanchor="middle", showarrow=False,
                            font=dict(family="Open Sans, sans-serif", size=28, color=LEGEND_COL[i])))

layout["shapes"] = shapes
layout["annotations"] = annotations
fig.update_layout(**layout)
fig.write_html("out.html")
